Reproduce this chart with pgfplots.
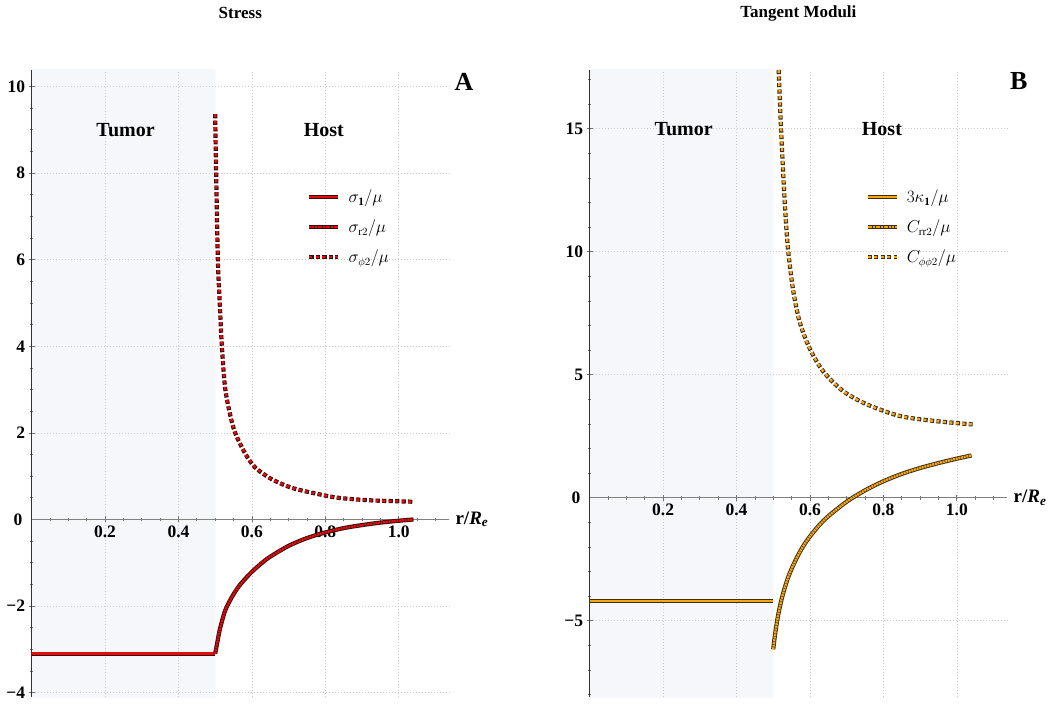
\documentclass[border=0pt]{standalone}
\usepackage{pgfplots}
\pgfplotsset{compat=1.18}
\usepackage{fontspec}
\setmainfont{Liberation Serif}
\definecolor{redc}{RGB}{228,12,12}
\definecolor{redE}{RGB}{60,12,12}
\definecolor{orc}{RGB}{246,166,18}
\definecolor{orE}{RGB}{60,45,20}
\definecolor{shade}{RGB}{246,247,251}
% tumour region 0 <= r <= 0.5 of the x range 0..1.137  ->  25bp + 50bp*0.5/1.137 = 46.99bp
\pgfdeclarehorizontalshading{tumorshade}{100bp}{color(0bp)=(shade); color(46.98bp)=(shade); color(47.0bp)=(white); color(100bp)=(white)}
\tikzset{
  solidS/.style 2 args={draw=#1, line width=2.6pt, preaction={draw=#2, line width=4.4pt}},
  fineS/.style 2 args={draw=#1, line width=2.4pt, dash pattern=on 2pt off 0.7pt, preaction={draw=#2, line width=4.2pt, solid}},
  dashS/.style 2 args={draw=#1, line width=2.4pt, dash pattern=on 3pt off 3.5pt, preaction={draw=#2, line width=4.2pt, dash pattern=on 4.2pt off 2.3pt}},
}
\pgfplotsset{
  mystyle/.style={
    scale only axis, width=417.4pt, height=627pt,
    axis background/.style={shading=tumorshade},
    axis lines=middle,
    axis line style={-, line width=0.8pt},
    x axis line style={black!50},
    y axis line style={black!80},
    xmin=0, xmax=1.137,
    xtick={0.2,0.4,0.6,0.8,1.0}, xticklabels={0.2,0.4,0.6,0.8,1.0},
    minor xtick={0.05,0.1,0.15,0.25,0.3,0.35,0.45,0.5,0.55,0.65,0.7,0.75,0.85,0.9,0.95,1.05,1.1},
    grid=major,
    major grid style={gray!40, line width=0.6pt, dash pattern=on 0.7pt off 2.3pt},
    tick style={black!55, line width=0.7pt},
    major tick length=6pt, minor tick length=3.5pt,
    ticklabel style={font=\fontsize{17.5}{17.5}\selectfont\bfseries},
    xlabel={\textbf{r/\textit{R}\textsubscript{\textit{e}}}},
    xlabel style={anchor=west, xshift=3pt, font=\fontsize{19}{19}\selectfont},
    title style={at={(0.5,1)}, anchor=center, yshift=51pt, font=\fontsize{17}{17}\selectfont\bfseries},
    legend style={draw=none, fill=none, inner sep=0pt, row sep=15.5pt, column sep=8pt,
      font=\fontsize{16}{16}\selectfont, cells={anchor=west}, nodes={inner sep=0pt}},
    legend image code/.code={\draw[##1] (0pt,0pt) -- (29pt,0pt);},
  }
}
\begin{document}
\begin{tikzpicture}
\path[use as bounding box] (0,0) rectangle (1051pt,704pt);
% ---------------- Panel A ----------------
\begin{axis}[mystyle, at={(31.6pt,7pt)}, anchor=south west,
  ymin=-4.10, ymax=10.38,
  ytick={-4,-2,0,2,4,6,8,10}, yticklabels={−4,−2,0,2,4,6,8,10},
  minor ytick={-3.5,-3,-2.5,-1.5,-1,-0.5,0.5,1,1.5,2.5,3,3.5,4.5,5,5.5,6.5,7,7.5,8.5,9,9.5},
  title={Stress},
  legend style={at={(0.660,0.809)}, anchor=north west},
]
\addplot[solidS={redc}{redE}] coordinates {(0,-3.10) (0.5,-3.10)};
\addlegendentry{$\sigma_{\mathbf{1}}/\mu$}
\addplot[fineS={redc}{redE}, smooth, tension=0.5] coordinates {
(0.500,-3.10) (0.507,-2.79) (0.513,-2.53) (0.527,-2.11) (0.545,-1.80) (0.564,-1.55)
(0.582,-1.37) (0.600,-1.21) (0.625,-1.02) (0.650,-0.86) (0.700,-0.61) (0.750,-0.43)
(0.800,-0.30) (0.850,-0.20) (0.900,-0.13) (0.950,-0.073) (1.000,-0.03) (1.040,0.00)};
\addlegendentry{$\sigma_{\mathrm{r}2}/\mu$}
\addplot[dashS={redc}{redE}, smooth, tension=0.5] coordinates {
(0.500,9.36) (0.5027,8.0) (0.5074,6.0) (0.5125,5.0) (0.5183,4.0) (0.527,3.05)
(0.540,2.45) (0.5545,2.0) (0.582,1.52) (0.609,1.20) (0.654,0.93) (0.709,0.73)
(0.773,0.60) (0.836,0.50) (0.927,0.44) (1.040,0.41)};
\addlegendentry{$\sigma_{\phi 2}/\mu$}
\node[font=\fontsize{20}{20}\selectfont\bfseries] at (axis cs:0.256,9.0) {Tumor};
\node[font=\fontsize{20}{20}\selectfont\bfseries] at (axis cs:0.796,9.0) {Host};
\end{axis}
\node[anchor=east, font=\fontsize{17.5}{17.5}\selectfont\bfseries] at (25.8pt,184.7pt) {0};
\node[font=\fontsize{26}{26}\selectfont\bfseries] at (464pt,622.3pt) {A};
% ---------------- Panel B ----------------
\begin{axis}[mystyle, at={(589.7pt,7pt)}, anchor=south west,
  ymin=-8.10, ymax=17.39,
  ytick={-5,0,5,10,15}, yticklabels={−5,0,5,10,15},
  minor ytick={-8,-7,-6,-4,-3,-2,-1,1,2,3,4,6,7,8,9,11,12,13,14,16,17},
  title={Tangent Moduli},
  legend style={at={(0.660,0.809)}, anchor=north west},
]
\addplot[solidS={orc}{orE}] coordinates {(0,-4.20) (0.5,-4.20)};
\addlegendentry{$3\kappa_{\mathbf{1}}/\mu$}
\addplot[fineS={orc}{orE}, smooth, tension=0.5] coordinates {
(0.500,-6.16) (0.503,-5.77) (0.507,-5.34) (0.512,-4.88) (0.518,-4.43) (0.525,-3.99)
(0.535,-3.48) (0.543,-3.14) (0.555,-2.72) (0.571,-2.24) (0.585,-1.89) (0.600,-1.57)
(0.625,-1.12) (0.650,-0.75) (0.700,-0.16) (0.750,0.30) (0.800,0.67) (0.850,0.97)
(0.900,1.21) (0.950,1.41) (1.000,1.59) (1.040,1.72)};
\addlegendentry{$C_{\mathrm{rr}2}/\mu$}
\addplot[dashS={orc}{orE}, smooth, tension=0.5] coordinates {
(0.5148,17.39) (0.521,15.06) (0.530,12.35) (0.539,10.31) (0.553,8.55) (0.571,7.20)
(0.598,6.11) (0.635,5.16) (0.689,4.35) (0.753,3.81) (0.843,3.33) (0.934,3.13) (1.043,2.98)};
\addlegendentry{$C_{\phi\phi 2}/\mu$}
\node[font=\fontsize{20}{20}\selectfont\bfseries] at (axis cs:0.256,15.0) {Tumor};
\node[font=\fontsize{20}{20}\selectfont\bfseries] at (axis cs:0.796,15.0) {Host};
\end{axis}
\node[anchor=east, font=\fontsize{17.5}{17.5}\selectfont\bfseries] at (583.9pt,206.3pt) {0};
\node[font=\fontsize{26}{26}\selectfont\bfseries] at (1018.8pt,623.2pt) {B};
\end{tikzpicture}
\end{document}
